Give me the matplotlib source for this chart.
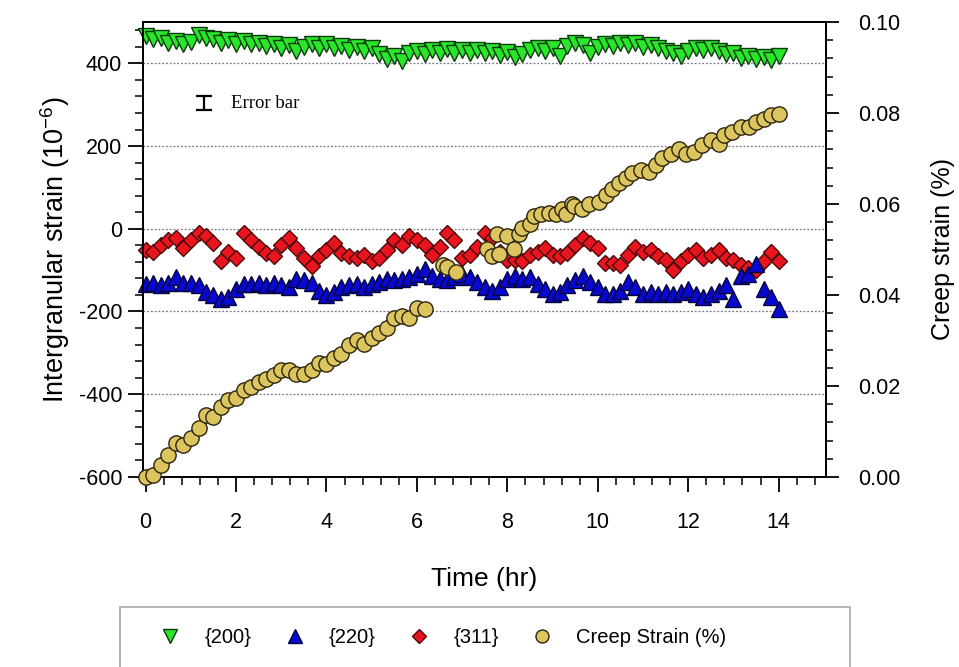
import numpy as np
import matplotlib
matplotlib.use("Agg")
import matplotlib.pyplot as plt
from matplotlib.ticker import MultipleLocator, FormatStrFormatter
from matplotlib.patches import Rectangle

plt.rcParams['font.family'] = ['Liberation Sans', 'DejaVu Sans']
plt.rcParams['mathtext.fontset'] = 'custom'
plt.rcParams['mathtext.rm'] = 'Liberation Sans'
plt.rcParams['axes.unicode_minus'] = False

# sample times (hr) for the lattice strain measurements, every 10 min
time_hr = [0, 0.17, 0.33, 0.5, 0.67, 0.83,
           1.0, 1.17, 1.33, 1.5, 1.67, 1.83,
           2.0, 2.17, 2.33, 2.5, 2.67, 2.83,
           3.0, 3.17, 3.33, 3.5, 3.67, 3.83,
           4.0, 4.17, 4.33, 4.5, 4.67, 4.83,
           5.0, 5.17, 5.33, 5.5, 5.67, 5.83,
           6.0, 6.17, 6.33, 6.5, 6.67, 6.83,
           7.0, 7.17, 7.33, 7.5, 7.67, 7.83,
           8.0, 8.17, 8.33, 8.5, 8.67, 8.83,
           9.0, 9.17, 9.33, 9.5, 9.67, 9.83,
           10.0, 10.17, 10.33, 10.5, 10.67, 10.83,
           11.0, 11.17, 11.33, 11.5, 11.67, 11.83,
           12.0, 12.17, 12.33, 12.5, 12.67, 12.83,
           13.0, 13.17, 13.33, 13.5, 13.67, 13.83,
           14.0]

# intergranular strain (1e-6) per grain family
strain_200 = [466, 458, 462, 450, 455, 446,
              452, 468, 462, 458, 450, 456,
              448, 455, 446, 450, 441, 447,
              438, 445, 430, 440, 446, 438,
              447, 436, 442, 432, 440, 430,
              436, 422, 410, 418, 405, 424,
              430, 422, 432, 425, 434, 426,
              433, 424, 432, 425, 430, 420,
              428, 415, 422, 432, 438, 430,
              436, 418, 442, 450, 444, 425,
              440, 448, 442, 450, 444, 449,
              440, 444, 436, 430, 424, 418,
              430, 437, 432, 438, 430, 423,
              426, 412, 418, 410, 416, 408,
              418]

strain_220 = [-133, -130, -137, -130, -116, -130,
              -130, -137, -152, -161, -169, -165,
              -145, -133, -133, -130, -137, -130,
              -137, -141, -121, -125, -130, -150,
              -161, -152, -141, -137, -133, -141,
              -133, -128, -121, -125, -121, -116,
              -109, -97, -113, -121, -125, -116,
              -109, -116, -128, -141, -150, -141,
              -121, -113, -121, -116, -133, -145,
              -157, -153, -137, -125, -113, -128,
              -141, -157, -157, -150, -128, -141,
              -157, -152, -157, -152, -157, -152,
              -145, -157, -165, -157, -150, -137,
              -169, -113, -109, -85, -145, -165,
              -193]

strain_311 = [-51, -55, -39, -27, -22, -46,
              -27, -10, -18, -34, -79, -55,
              -71, -10, -27, -43, -59, -67,
              -39, -22, -46, -71, -91, -67,
              -51, -34, -59, -67, -71, -63,
              -79, -70, -51, -27, -39, -18,
              -27, -39, -63, -43, -10, -27,
              -70, -63, -43, -10, -22, -55,
              -75, -75, -79, -63, -55, -46,
              -63, -67, -59, -39, -22, -34,
              -46, -82, -82, -87, -63, -43,
              -55, -51, -67, -75, -99, -79,
              -63, -51, -71, -63, -51, -71,
              -75, -87, -94, -99, -79, -55,
              -79]

# creep strain (%) from the extensometer
creep_time = [0, 0.17, 0.33, 0.5, 0.67, 0.83,
              1.0, 1.17, 1.33, 1.5, 1.67, 1.83,
              2.0, 2.17, 2.33, 2.5, 2.67, 2.83,
              3.0, 3.17, 3.33, 3.5, 3.67, 3.83,
              4.0, 4.17, 4.33, 4.5, 4.67, 4.83,
              5.0, 5.17, 5.33, 5.5, 5.67, 5.83,
              6.0, 6.17,
              6.57, 6.67, 6.87, 7.54, 7.65, 7.78, 7.82, 8.0, 8.15, 8.26,
              8.33, 8.49, 8.6, 8.75, 8.93, 9.08, 9.21, 9.3, 9.44, 9.48,
              9.66, 9.81, 10.03, 10.18, 10.32, 10.47, 10.63, 10.76, 10.96, 11.14,
              11.29, 11.42, 11.62, 11.8, 11.95, 12.13, 12.31, 12.5, 12.68, 12.79,
              12.97, 13.17, 13.34, 13.5, 13.67, 13.83, 14.0]

creep_strain = [0.0, 0.0004, 0.0026, 0.0048, 0.0074, 0.0070,
                0.0085, 0.0107, 0.0136, 0.0131, 0.0153, 0.0168,
                0.0173, 0.0190, 0.0197, 0.0208, 0.0216, 0.0223,
                0.0234, 0.0234, 0.0227, 0.0227, 0.0234, 0.0251,
                0.0249, 0.0262, 0.0271, 0.0289, 0.0300, 0.0293,
                0.0306, 0.0317, 0.0328, 0.0350, 0.0354, 0.0350,
                0.0372, 0.0370,
                0.0465, 0.0462, 0.0450, 0.0500, 0.0485, 0.0535, 0.0490, 0.0530, 0.0500, 0.0535,
                0.0547, 0.0555, 0.0573, 0.0577, 0.0580, 0.0577, 0.0590, 0.0577, 0.0600, 0.0595,
                0.0588, 0.0600, 0.0605, 0.0620, 0.0634, 0.0645, 0.0656, 0.0667, 0.0675, 0.0671,
                0.0686, 0.0700, 0.0710, 0.0721, 0.0710, 0.0715, 0.0730, 0.0741, 0.0732, 0.0752,
                0.0759, 0.0770, 0.0770, 0.0780, 0.0787, 0.0796, 0.0798]

labels = ['{200}', '{220}', '{311}', 'Creep Strain (%)']

fig = plt.figure(figsize=(9.59, 6.67), dpi=100)
ax = fig.add_axes([0.149, 0.285, 0.712, 0.682])

l1, = ax.plot(time_hr, strain_200, 'v', ms=11.5, mfc='#2ae62a', mec='#0a3a0a', mew=1.0,
              clip_on=False, zorder=3)
l3, = ax.plot(time_hr, strain_311, 'D', ms=8.5, mfc='#e8141e', mec='#4a0808', mew=1.0,
              clip_on=False, zorder=4)
l2, = ax.plot(time_hr, strain_220, '^', ms=11.5, mfc='#0808d0', mec='#05053a', mew=1.0,
              clip_on=False, zorder=5)

ax.set_xlim(-0.06, 15.04)
ax.set_ylim(-600, 500)
ax.xaxis.set_major_locator(MultipleLocator(2))
ax.xaxis.set_minor_locator(MultipleLocator(0.4))
ax.set_yticks([-600, -400, -200, 0, 200, 400])
ax.yaxis.set_minor_locator(MultipleLocator(40))
ax.tick_params(which='major', direction='out', length=11, width=1.3, labelsize=15.5, pad=4)
ax.tick_params(axis='x', which='major', pad=14)
ax.tick_params(which='minor', direction='out', length=5.5, width=1.1)
for y in [-400, -200, 0, 200, 400]:
    ax.axhline(y, color='#777788', lw=0.9, ls=(0, (1.5, 1.5)), zorder=1)
for s in ax.spines.values():
    s.set_linewidth(1.4)

ax.set_xlabel('Time (hr)', fontsize=19, labelpad=25)
ax.set_ylabel('Intergranular strain (10$^{-6}$)', fontsize=19.5, labelpad=5)

# error bar key
ax.errorbar([1.3], [304], yerr=[17], fmt='none', ecolor='black', elinewidth=1.6,
            capsize=5.5, capthick=1.6)
ax.text(1.88, 304, 'Error bar', fontsize=13.5, family=['Liberation Serif'],
        va='center', ha='left')

ax2 = ax.twinx()
l4, = ax2.plot(creep_time, creep_strain, 'o', ms=11, mfc='#dcc55e', mec='#2a2410', mew=1.0,
               clip_on=False, zorder=3)
ax2.set_ylim(0, 0.1)
ax2.yaxis.set_major_locator(MultipleLocator(0.02))
ax2.yaxis.set_minor_locator(MultipleLocator(0.004))
ax2.yaxis.set_major_formatter(FormatStrFormatter('%.2f'))
ax2.tick_params(which='major', direction='out', length=9, width=1.3, labelsize=15.5, pad=14)
ax2.tick_params(which='minor', direction='out', length=5, width=1.1)
ax2.set_ylabel('Creep strain (%)', fontsize=18, labelpad=22)
for s in ax2.spines.values():
    s.set_linewidth(1.4)

# legend box under the plot, running off the bottom edge
fig.patches.append(Rectangle((120 / 959, -0.05), 730 / 959, 0.05 + 1 - 607 / 667,
                             transform=fig.transFigure, fill=False,
                             edgecolor='#b0b0b0', lw=1.3))
leg = fig.legend([l1, l2, l3, l4], labels, ncol=4, loc='upper left',
                 bbox_to_anchor=(140 / 959, 1 - 618 / 667), frameon=False,
                 fontsize=14.5, markerscale=0.85, borderpad=0, handlelength=2.0,
                 handletextpad=0.7, columnspacing=1.15)

fig.savefig('out.png', dpi=100)
